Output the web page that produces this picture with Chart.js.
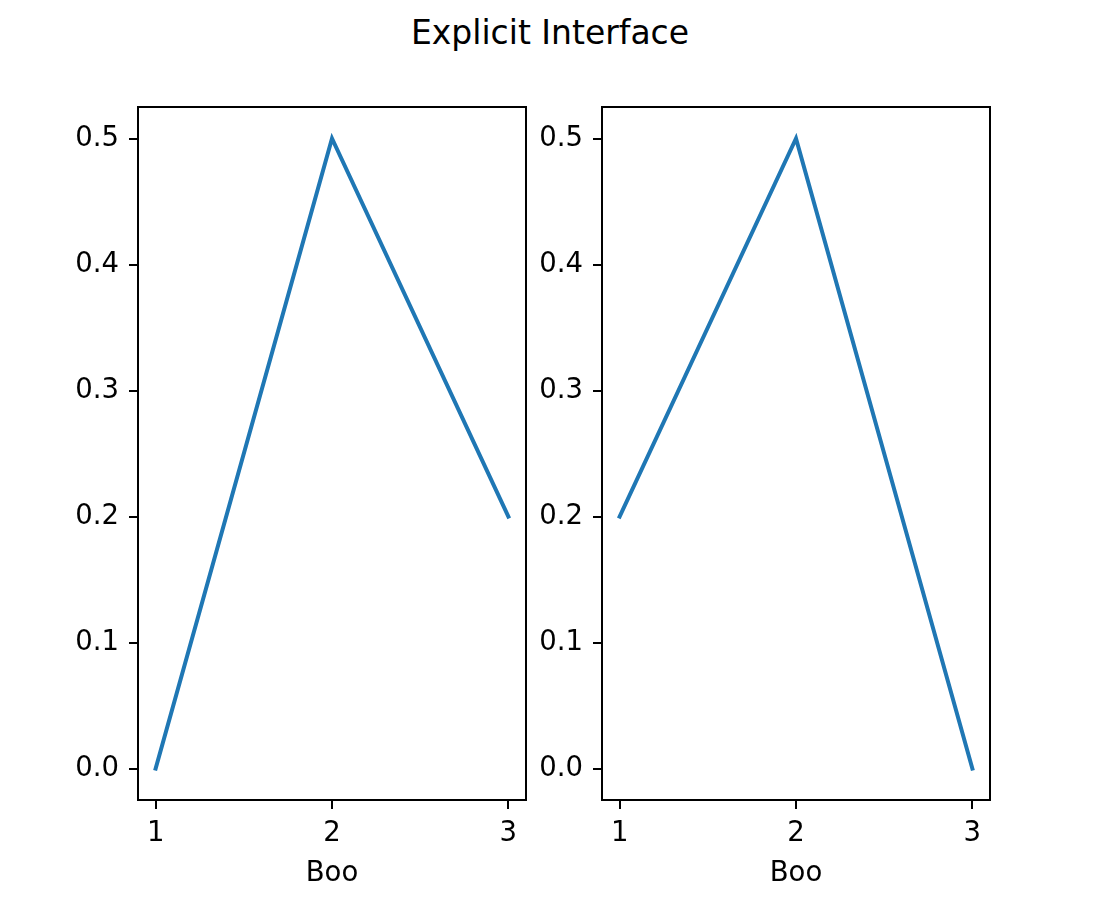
<!DOCTYPE html>
<html>
<head>
<meta charset="utf-8">
<script src="https://cdn.jsdelivr.net/npm/chart.js@4/dist/chart.umd.min.js"></script>
<style>
  body { margin: 0; background: #fff; }
  #page { position: relative; width: 1100px; height: 900px; overflow: hidden; }
  #suptitle {
    position: absolute; left: 0; top: 0; width: 1100px;
    text-align: center; font: 33px "DejaVu Sans"; line-height: 66px; color: #000;
  }
  .panel { position: absolute; top: 90px; width: 546px; height: 810px; }
</style>
</head>
<body>
<div id="page">
  <div id="suptitle">Explicit Interface</div>
  <div class="panel" style="left:0px"><canvas id="leftChart"></canvas></div>
  <div class="panel" style="left:464px"><canvas id="rightChart"></canvas></div>
</div>
<script>
const xValues = [1, 2, 3];
const leftValues = [0.0, 0.5, 0.2];
const rightValues = [0.2, 0.5, 0.0];
const xTicks = [1, 2, 3];
const yTicks = [0.0, 0.1, 0.2, 0.3, 0.4, 0.5];
const xLabel = 'Boo';

// draws the top and right spines so each axes is a closed box
const frame = {
  id: 'frame',
  afterDraw(chart) {
    const { ctx, chartArea: a } = chart;
    ctx.save();
    ctx.strokeStyle = '#000';
    ctx.lineWidth = 2;
    ctx.strokeRect(a.left, a.top, a.right - a.left, a.bottom - a.top);
    ctx.restore();
  }
};

function noPadding(scale) {
  scale.paddingTop = 0;
  scale.paddingBottom = 0;
  scale.paddingLeft = 0;
  scale.paddingRight = 0;
}

function makeChart(id, values) {
  const tickFont = { family: 'DejaVu Sans', size: 27.5 };
  return new Chart(document.getElementById(id), {
    type: 'line',
    data: {
      datasets: [{
        data: xValues.map((x, i) => ({ x: x, y: values[i] })),
        borderColor: '#1f77b4',
        borderWidth: 4,
        borderCapStyle: 'square',
        pointRadius: 0,
        tension: 0,
        fill: false
      }]
    },
    options: {
      responsive: true,
      maintainAspectRatio: false,
      animation: false,
      devicePixelRatio: 1,
      layout: { padding: { left: 0, top: 17, right: 20, bottom: 0 } },
      plugins: { legend: { display: false }, tooltip: { enabled: false } },
      scales: {
        x: {
          type: 'linear',
          min: 0.9,
          max: 3.1,
          afterBuildTicks: axis => { axis.ticks = xTicks.map(v => ({ value: v })); },
          afterFit: scale => { scale.height = 100; noPadding(scale); },
          ticks: {
            font: tickFont, color: '#000', padding: 8, maxRotation: 0,
            callback: v => String(v)
          },
          grid: { drawOnChartArea: false, tickLength: 9, color: '#000', lineWidth: 2 },
          border: { display: true, color: '#000', width: 2 },
          title: {
            display: true, text: xLabel, color: '#000',
            font: tickFont, padding: { top: 0, bottom: 10 }
          }
        },
        y: {
          type: 'linear',
          min: -0.025,
          max: 0.525,
          afterBuildTicks: axis => { axis.ticks = yTicks.map(v => ({ value: v })); },
          afterFit: scale => { scale.width = 138; noPadding(scale); },
          ticks: {
            font: tickFont, color: '#000', padding: 10,
            callback: v => v.toFixed(1)
          },
          grid: { drawOnChartArea: false, tickLength: 9, color: '#000', lineWidth: 2 },
          border: { display: true, color: '#000', width: 2 }
        }
      }
    },
    plugins: [frame]
  });
}

makeChart('leftChart', leftValues);
makeChart('rightChart', rightValues);
</script>
</body>
</html>
